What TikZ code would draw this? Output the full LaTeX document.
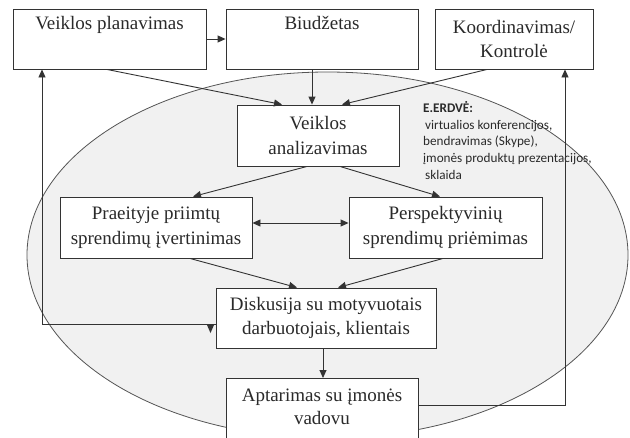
\documentclass[tikz,border=0pt]{standalone}
\usepackage{fontspec}
\setmainfont{Liberation Serif}
\newfontfamily\calfont{Carlito}
\usetikzlibrary{arrows.meta}
\definecolor{linec}{HTML}{333333}
\definecolor{ellfill}{HTML}{F1F1F1}
\definecolor{ellline}{HTML}{555555}
\definecolor{txtc}{HTML}{2A2A2A}
\tikzset{
  box/.style={draw=linec, line width=0.9pt, fill=white, inner sep=0pt, align=center,
    text=txtc, font=\fontsize{19}{24.5}\selectfont},
  txt/.style={inner sep=0pt, align=center, text=txtc, font=\fontsize{19}{23}\selectfont},
  arr/.style={draw=linec, line width=0.9pt, -{Triangle[length=8pt,width=7pt]}},
  biarr/.style={draw=linec, line width=0.9pt, {Triangle[length=8pt,width=7pt]}-{Triangle[length=8pt,width=7pt]}},
}
\begin{document}
\begin{tikzpicture}[x=1pt,y=-1pt]
\useasboundingbox (0,0) rectangle (630,437);
\clip (0,0) rectangle (630,437);
\fill[white] (0,0) rectangle (630,437);
% ellipse
\draw[ellline, fill=ellfill, line width=0.8pt] (327.5,255) ellipse [x radius=300.5, y radius=183];
% boxes
\node[box, minimum width=193, minimum height=60] (vp) at (109.5,39) {Veiklos planavimas\\\strut};
\node[box, minimum width=192, minimum height=60] (bud) at (322,39) {Biudžetas\\\strut};
\node[box, minimum width=158, minimum height=60] (koord) at (514,39) {Koordinavimas/\\Kontrolė};
\node[box, minimum width=162, minimum height=61] (anal) at (318,135.5) {Veiklos\\analizavimas};
\node[box, minimum width=192, minimum height=61] (prae) at (156,227.5) {Praeityje priimtų\\sprendimų įvertinimas};
\node[box, minimum width=193, minimum height=61] (persp) at (445.5,227.5) {Perspektyvinių\\sprendimų priėmimas};
\node[box, minimum width=220, minimum height=60] (disk) at (326,318) {Diskusija su motyvuotais\\darbuotojais, klientais};
\node[box, minimum width=192, minimum height=82, anchor=north] (apt) at (322,378) {};
\node[txt] (apttext) at (322,406.5) {Aptarimas su įmonės\\vadovu};
% E.ERDVE text
\node[inner sep=0pt, anchor=north west, align=left, text=txtc,
  font=\calfont\fontsize{13.2}{16.8}\selectfont] (erdve) at (423,101)
  {\textbf{E.ERDVĖ:}\\\hspace{2pt}virtualios konferencijos,\\bendravimas (Skype),\\įmonės produktų prezentacijos,\\\hspace{2pt}sklaida};
% connectors
\draw[arr] (vp) -- (bud);
\draw[arr] ([xshift=-2.5pt]vp.south) -- ([xshift=-36pt]anal.north);
\draw[arr] ([xshift=-10pt]bud.south) -- ([xshift=-6pt]anal.north);
\draw[arr] ([xshift=-27pt]koord.south) -- ([xshift=24pt]anal.north);
\draw[arr] ([xshift=-11pt]anal.south) -- ([xshift=37pt]prae.north);
\draw[arr] ([xshift=22pt]anal.south) -- ([xshift=-5.5pt]persp.north);
\draw[biarr] ([yshift=4.5pt]prae.east) -- ([yshift=4.5pt]persp.west);
\draw[arr] ([xshift=34pt]prae.south) -- ([xshift=-29pt]disk.north);
\draw[arr] ([xshift=-2.5pt]persp.south) -- ([xshift=12pt]disk.north);
\draw[arr] ([xshift=1pt]apt.north |- disk.south) -- ([xshift=1pt]apt.north);
\draw[arr] ([yshift=-6pt]disk.west) -| ([xshift=-67.5pt]vp.south);
\fill[linec] (207,325) -- (214,325) -- (210.5,333) -- cycle;
\draw[arr] ([yshift=-27pt]apt.north east) -| ([xshift=51pt]koord.south);
\end{tikzpicture}
\end{document}
